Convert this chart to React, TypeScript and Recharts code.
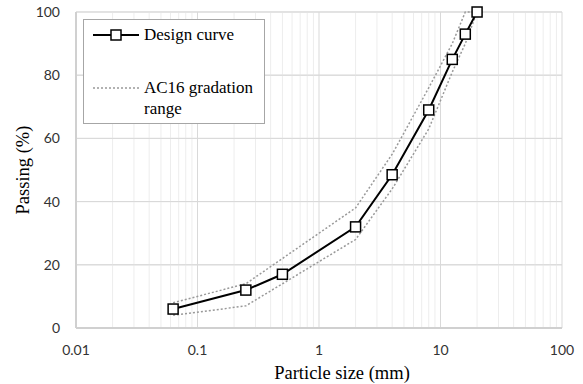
import React from 'react';
import {
  LineChart,
  Line,
  XAxis,
  YAxis,
  CartesianGrid,
  ReferenceLine,
  Label,
} from 'recharts';

// sieve sizes in mm and percent passing
const sieveSizes = [0.063, 0.25, 0.5, 2, 4, 8, 12.5, 16, 20];
const designCurve = [6, 12, 17, 32, 48.5, 69, 85, 93, 100];
const upperLimit = [8, 14, 22, 38, 55, 76, 90, 100, 100];
const lowerLimit = [4, 7, 14, 28, 44, 63, 81, 90, 100];

const xTicks = [0.01, 0.1, 1, 10, 100];
const yTicks = [0, 20, 40, 60, 80, 100];
const minorSteps = [2, 3, 4, 5, 6, 7, 8, 9];
const minorLines = xTicks.slice(0, -1).flatMap((d) => minorSteps.map((m) => +(d * m).toPrecision(3)));

const data = sieveSizes.map((size, i) => ({
  size,
  design: designCurve[i],
  upper: upperLimit[i],
  lower: lowerLimit[i],
}));

const tickFont = { fontFamily: 'Lato, sans-serif', fontSize: 14, fill: '#333' };
const serif = '"Liberation Serif", serif';

const SquareDot = (props: any) => {
  const { cx, cy, index } = props;
  return (
    <rect key={`sq-${index}`} x={cx - 5} y={cy - 5} width={10} height={10} fill="#fff" stroke="#000" strokeWidth={1.5} />
  );
};

// legend drawn as an overlay box, like the Excel one
const LegendBox = () => (
  <div
    style={{
      position: 'absolute',
      left: 83,
      top: 19,
      width: 180,
      height: 103,
      border: '1px solid #a6a6a6',
      background: '#fff',
      fontFamily: serif,
      fontSize: 17,
      color: '#000',
    }}
  >
    <svg width={46} height={14} style={{ position: 'absolute', left: 9, top: 8 }}>
      <line x1={0} y1={7} x2={46} y2={7} stroke="#000" strokeWidth={2} />
      <rect x={18} y={2} width={10} height={10} fill="#fff" stroke="#000" strokeWidth={1.5} />
    </svg>
    <div style={{ position: 'absolute', left: 60, top: 4, lineHeight: '21px' }}>Design curve</div>
    <svg width={46} height={4} style={{ position: 'absolute', left: 9, top: 66 }}>
      <line x1={0} y1={2} x2={46} y2={2} stroke="#999" strokeWidth={1.5} strokeDasharray="2 2" />
    </svg>
    <div style={{ position: 'absolute', left: 60, top: 57, width: 118, lineHeight: '21px' }}>
      AC16 gradation range
    </div>
  </div>
);

const App: React.FC = () => {
  return (
    <div style={{ position: 'absolute', left: 0, top: 0, width: 583, height: 384, background: '#fff' }}>
      <LineChart width={583} height={384} data={data} margin={{ top: 12, right: 21, bottom: 0, left: 0 }}>
        <CartesianGrid stroke="#d9d9d9" strokeWidth={1} />
        {minorLines.map((v) => (
          <ReferenceLine key={`m-${v}`} x={v} stroke="#ededed" strokeWidth={1} />
        ))}
        {yTicks.slice(1).map((v) => (
          <ReferenceLine key={`h-${v}`} y={v} stroke="#d9d9d9" strokeWidth={1} />
        ))}
        <XAxis
          dataKey="size"
          type="number"
          scale="log"
          domain={[0.01, 100]}
          ticks={xTicks}
          tickFormatter={(v: number) => String(v)}
          axisLine={{ stroke: '#d0d0d0', strokeWidth: 2 }}
          tickLine={false}
          tickSize={0}
          tickMargin={17}
          height={56}
          tick={tickFont}
        >
          <Label
            value="Particle size (mm)"
            position="insideBottom"
            offset={5}
            dx={23}
            style={{ fontFamily: serif, fontSize: 18.5, fill: '#000' }}
          />
        </XAxis>
        <YAxis
          type="number"
          domain={[0, 100]}
          ticks={yTicks}
          axisLine={{ stroke: '#d0d0d0', strokeWidth: 2 }}
          tickLine={false}
          tickSize={0}
          tickMargin={16}
          width={76}
          tick={tickFont}
        >
          <Label
            value="Passing (%)"
            angle={-90}
            position="insideLeft"
            offset={22}
            style={{ fontFamily: serif, fontSize: 18.5, fill: '#000', textAnchor: 'middle' }}
          />
        </YAxis>
        <Line
          dataKey="upper"
          name="AC16 gradation range"
          stroke="#999"
          strokeWidth={1.5}
          strokeDasharray="2 2"
          dot={false}
          activeDot={false}
          isAnimationActive={false}
        />
        <Line
          dataKey="lower"
          stroke="#999"
          strokeWidth={1.5}
          strokeDasharray="2 2"
          dot={false}
          activeDot={false}
          isAnimationActive={false}
        />
        <Line
          dataKey="design"
          name="Design curve"
          stroke="#000"
          strokeWidth={2}
          dot={SquareDot}
          activeDot={false}
          isAnimationActive={false}
        />
      </LineChart>
      <LegendBox />
    </div>
  );
};

export default App;
